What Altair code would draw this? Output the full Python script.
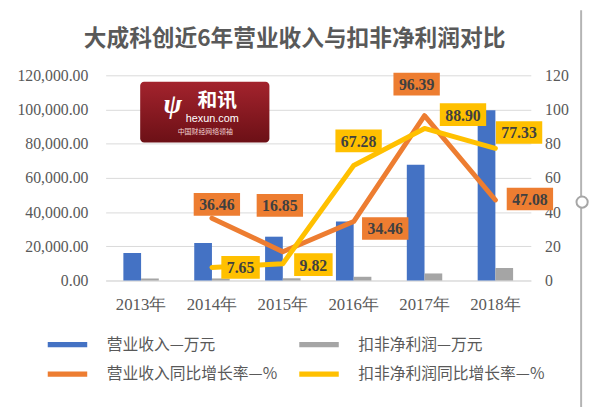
import altair as alt
import pandas as pd

# ---------------- data ----------------
years = ["2013年", "2014年", "2015年", "2016年", "2017年", "2018年"]
revenue = [16070, 21930, 25620, 34450, 67650, 99500]          # 营业收入 (万元)
net_profit = [1100, 1190, 1300, 2180, 4120, 7300]             # 扣非净利润 (万元)
growth_years = ["2014年", "2015年", "2016年", "2017年", "2018年"]
revenue_growth = [36.46, 16.85, 34.46, 96.39, 47.08]          # 营业收入同比增长率 %
profit_growth = [7.65, 9.82, 67.28, 88.90, 77.33]             # 扣非净利润同比增长率 %

series = ["营业收入—万元", "扣非净利润—万元", "营业收入同比增长率—%", "扣非净利润同比增长率—%"]
colors = ["#4472C4", "#A5A5A5", "#ED7D31", "#FFC000"]
left_ticks = [0, 20000, 40000, 60000, 80000, 100000, 120000]
right_ticks = [0, 20, 40, 60, 80, 100, 120]
title_text = "大成科创近6年营业收入与扣非净利润对比"

# label box placement (pixel offset of each value box from its point)
rev_label_offsets = [(5, -14), (-3, -47), (32, 7), (-8, -32), (35, -1)]
profit_label_offsets = [(29, 0), (31, 1), (5, -25), (39, -14), (24, -16)]

SERIF = "Liberation Serif"
CJK = "Noto Sans CJK SC"
GREY_TXT = "#595959"

bar_df = pd.DataFrame({
    "year": years * 2,
    "series": [series[0]] * len(years) + [series[1]] * len(years),
    "value": revenue + net_profit,
})
rev_df = pd.DataFrame({"year": growth_years, "value": revenue_growth})
prof_df = pd.DataFrame({"year": growth_years, "value": profit_growth})

# ---------------- encodings ----------------
x_enc = alt.X(
    "year:N", title=None,
    scale=alt.Scale(domain=years, paddingInner=0.5, paddingOuter=0.25),
    axis=alt.Axis(labelAngle=0, labelFont=SERIF, labelFontSize=17, labelColor=GREY_TXT,
                  ticks=False, domain=True, domainColor="#D9D9D9", domainWidth=1,
                  labelPadding=16, grid=False),
)
y_left = alt.Y(
    "value:Q", title=None,
    scale=alt.Scale(domain=[0, 120000], nice=False),
    axis=alt.Axis(values=left_ticks, format=",.2f", labelFont=SERIF, labelFontSize=16,
                  labelColor=GREY_TXT, ticks=False, domain=False, grid=True,
                  gridColor="#D9D9D9", gridWidth=1, labelPadding=18),
)
y_right = alt.Y(
    "value:Q", title=None,
    scale=alt.Scale(domain=[0, 120], nice=False),
    axis=alt.Axis(orient="right", values=right_ticks, format="d", labelFont=SERIF,
                  labelFontSize=16, labelColor=GREY_TXT, ticks=False, domain=False,
                  grid=False, labelPadding=14),
)

legend = alt.Legend(
    title=None, orient="none", legendX=-60, legendY=265, columns=2, direction="horizontal",
    symbolType="M-3,-0.4H3V0.4H-3Z", symbolSize=178, symbolOffset=13.3,
    symbolStrokeWidth=0, labelOffset=31.7, labelFont=CJK, labelFontSize=16,
    labelColor=GREY_TXT, labelLimit=400, rowPadding=14, columnPadding=20, padding=0,
)

bars = alt.Chart(bar_df).mark_bar().encode(
    x=x_enc,
    xOffset=alt.XOffset("series:N", scale=alt.Scale(domain=series[:2], paddingInner=0, paddingOuter=0)),
    y=y_left,
    color=alt.Color("series:N", scale=alt.Scale(domain=series, range=colors), legend=legend),
)

inner_layers = []
for df, col in [(rev_df, colors[2]), (prof_df, colors[3])]:
    inner_layers.append(
        alt.Chart(df).mark_line(color=col, strokeWidth=5, strokeCap="round", strokeJoin="round")
        .encode(x=x_enc, y=y_right)
    )

for df, col, vals, offs in [(rev_df, colors[2], revenue_growth, rev_label_offsets),
                            (prof_df, colors[3], profit_growth, profit_label_offsets)]:
    for yr, v, (dx, dy) in zip(growth_years, vals, offs):
        w = 47 if v >= 10 else 39
        h = 11.5 / (w / 2)
        path = f"M-1,-{h:.4f}H1V{h:.4f}H-1Z"
        sel = alt.Chart(df).transform_filter(alt.datum.year == yr)
        inner_layers.append(
            sel.mark_point(shape=path, size=w * w, filled=True, opacity=1, color=col,
                           strokeWidth=0, xOffset=dx, yOffset=dy)
            .encode(x=x_enc, y=y_right)
        )
        inner_layers.append(
            sel.mark_text(dx=dx, dy=dy + 1, font=SERIF, fontSize=16, fontWeight="bold",
                          color="#404040")
            .encode(x=x_enc, y=y_right, text=alt.Text("value:Q", format=".2f"))
        )

inner = alt.layer(*inner_layers)

# ---------------- decorations (watermark logo, frame) ----------------
one = pd.DataFrame({"a": [0]})
logo_bg = alt.Chart(one).mark_rect(
    cornerRadius=4,
    color=alt.Gradient(gradient="linear", x1=0, x2=0, y1=0, y2=1,
                       stops=[alt.GradientStop(color="#A3232D", offset=0),
                              alt.GradientStop(color="#6C1016", offset=1)]),
).encode(x=alt.value(35), x2=alt.value(166), y=alt.value(6.5), y2=alt.value(68))
logo_glyph = alt.Chart(one).mark_text(text="ψ", font=SERIF, fontSize=28, fontWeight="bold",
                                      fontStyle="italic", color="white").encode(
    x=alt.value(68), y=alt.value(30))
logo_name = alt.Chart(one).mark_text(text="和讯", font=CJK, fontSize=20, fontWeight="bold",
                                     color="white").encode(x=alt.value(113), y=alt.value(26))
logo_url = alt.Chart(one).mark_text(text="hexun.com", font="Liberation Sans", fontSize=11,
                                    color="white").encode(x=alt.value(108), y=alt.value(44))
logo_sub = alt.Chart(one).mark_text(text="中国财经网络领袖", font=CJK, fontSize=7,
                                    color="#F2D5D5").encode(x=alt.value(101), y=alt.value(57))
frame_line = alt.Chart(one).mark_rule(color="#B4B4B4", strokeWidth=2).encode(
    x=alt.value(482), y=alt.value(-66), y2=alt.value(340))
frame_handle = alt.Chart(one).mark_point(shape="circle", size=130, filled=True, fill="white",
                                         stroke="#A6A6A6", strokeWidth=2, opacity=1).encode(
    x=alt.value(483), y=alt.value(128.5))

chart = alt.layer(
    logo_bg, logo_glyph, logo_name, logo_url, logo_sub,
    bars, inner, frame_line, frame_handle,
).resolve_scale(y="independent").properties(
    width=431, height=208,
    autosize="none",
    padding={"left": 99, "top": 65.5, "right": 60, "bottom": 125.5},
    background="white",
    title=alt.TitleParams(text=title_text, font=CJK, fontSize=23, fontWeight="bold",
                          color=GREY_TXT, anchor="middle", dx=-24, offset=-42),
).configure_view(stroke=None)

chart.save("out.html", embed_options={"renderer": "svg", "actions": False})
